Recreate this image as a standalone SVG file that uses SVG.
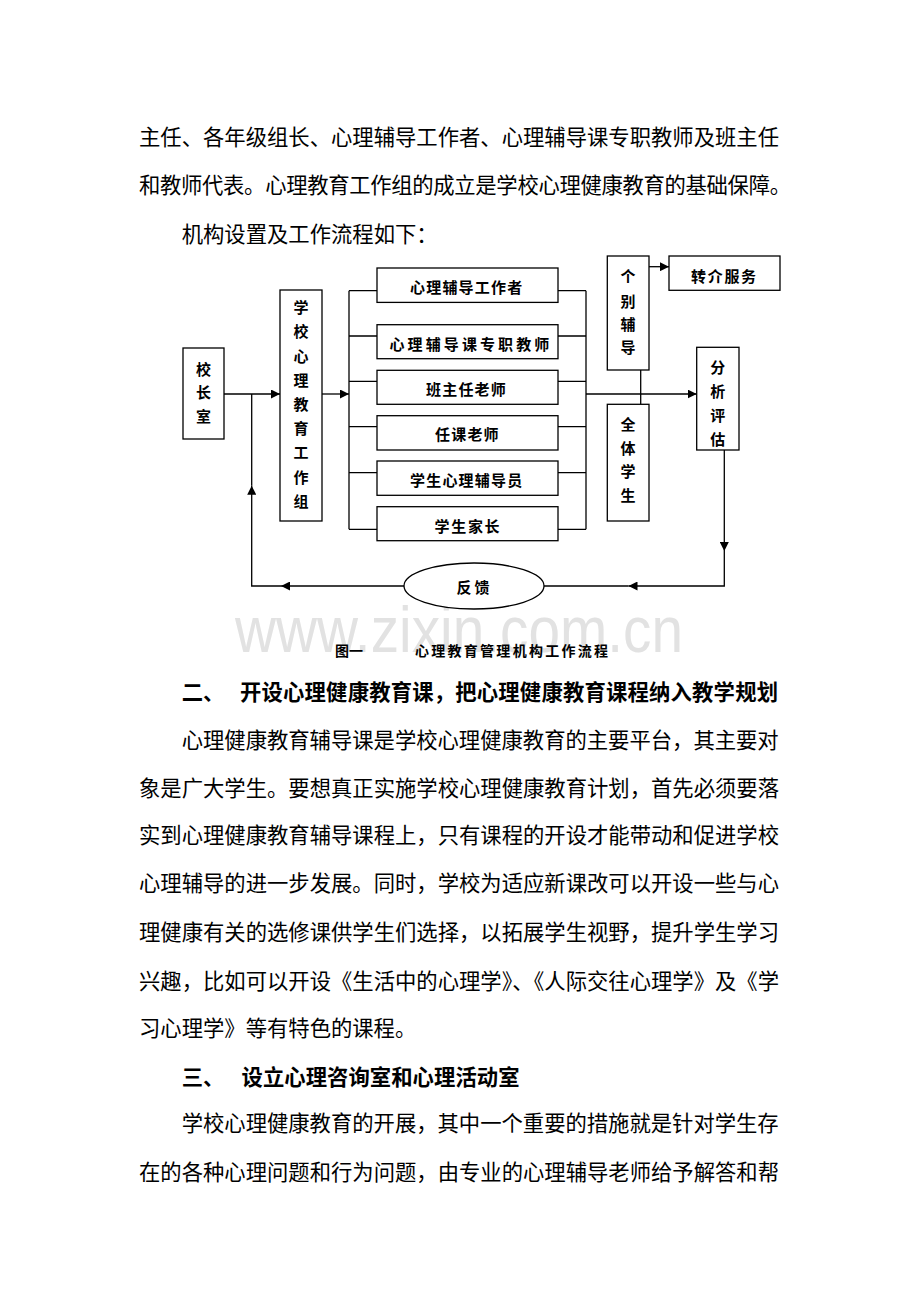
<svg xmlns="http://www.w3.org/2000/svg" width="920" height="1302" viewBox="0 0 920 1302">
<style>
.bg{fill:#fff}
.box{fill:#fff;stroke:#000;stroke-width:1.3}
.ln{fill:none;stroke:#000;stroke-width:1.3}
.lbl{font-family:"Noto Sans CJK SC",sans-serif;font-size:15px;font-weight:bold;fill:#000;letter-spacing:1.2px}
.vl{font-family:"Noto Sans CJK SC",sans-serif;font-size:15px;font-weight:bold;fill:#000;text-anchor:middle}
.p{font-family:"Noto Sans CJK SC",sans-serif;font-size:21.33px;fill:#000}
.h{font-weight:bold}
.cap{font-family:"Noto Sans CJK SC",sans-serif;font-size:14px;font-weight:bold;fill:#000}
.wm{font-family:"Liberation Sans",Arial,sans-serif;font-size:64px;fill:#e2e2e2}
</style>
<defs>
<marker id="ah" markerUnits="userSpaceOnUse" markerWidth="10" markerHeight="9" refX="9" refY="4.5" orient="auto"><path d="M0,0 L9,4.5 L0,9 z" fill="#000"/></marker>
</defs>
<rect class="bg" x="0" y="0" width="920" height="1302"/>
<text class="wm" x="235" y="652" textLength="448" lengthAdjust="spacingAndGlyphs">www.zixin.com.cn</text>

<g id="text-top">
<text class="p" x="139" y="145" textLength="640" lengthAdjust="spacing">主任、各年级组长、心理辅导工作者、心理辅导课专职教师及班主任</text>
<text class="p" x="139" y="193" textLength="652" lengthAdjust="spacing">和教师代表。心理教育工作组的成立是学校心理健康教育的基础保障。</text>
<text class="p" x="181.7" y="241.5">机构设置及工作流程如下：</text>
</g>

<g id="connectors">
<path class="ln" d="M224,394 H280" marker-end="url(#ah)"/>
<path class="ln" d="M322,394 H349" marker-end="url(#ah)"/>
<path class="ln" d="M349,290.7 V529.3"/>
<path class="ln" d="M349,290.7 H377 M349,336 H377 M349,381.3 H377 M349,426.7 H377 M349,472.7 H377 M349,529.3 H377"/>
<path class="ln" d="M558,290.7 H586 M558,336 H586 M558,381.3 H586 M558,426.7 H586 M558,472.7 H586 M558,529.3 H586"/>
<path class="ln" d="M586,290.7 V529.3"/>
<path class="ln" d="M586,394 H696.7" marker-end="url(#ah)"/>
<path class="ln" d="M649,266.7 H669" marker-end="url(#ah)"/>
<path class="ln" d="M640.7,370 V404.3"/>
<path class="ln" d="M724.3,450 V551" marker-end="url(#ah)"/>
<path class="ln" d="M724.3,551 V586 H628.5" marker-end="url(#ah)"/>
<path class="ln" d="M628.5,586 H544"/>
<path class="ln" d="M404,586 H281" marker-end="url(#ah)"/>
<path class="ln" d="M281,586 H251.7 V485.7" marker-end="url(#ah)"/>
<path class="ln" d="M251.7,485.7 V394"/>
</g>

<g id="n-xiaozhangshi">
<rect class="box" x="183" y="348" width="41" height="91"/>
<text class="vl" x="203.5" y="375">校</text>
<text class="vl" x="203.5" y="398.3">长</text>
<text class="vl" x="203.5" y="421.6">室</text>
</g>

<g id="n-gongzuozu">
<rect class="box" x="280" y="290" width="42" height="231"/>
<text class="vl" x="301" y="313.2">学</text>
<text class="vl" x="301" y="337.4">校</text>
<text class="vl" x="301" y="361.6">心</text>
<text class="vl" x="301" y="385.8">理</text>
<text class="vl" x="301" y="410">教</text>
<text class="vl" x="301" y="434.2">育</text>
<text class="vl" x="301" y="458.4">工</text>
<text class="vl" x="301" y="482.6">作</text>
<text class="vl" x="301" y="506.8">组</text>
</g>

<g id="n-gongzuozhe">
<rect class="box" x="377" y="268" width="181" height="34.4"/>
<text class="lbl" x="410" y="293.4">心理辅导工作者</text>
</g>
<g id="n-zhuanzhi">
<rect class="box" x="377" y="324.7" width="181" height="34"/>
<text class="lbl" x="389.5" y="349.7" style="letter-spacing:3.1px">心理辅导课专职教师</text>
</g>
<g id="n-banzhuren">
<rect class="box" x="377" y="370.3" width="181" height="34"/>
<text class="lbl" x="426" y="394.7">班主任老师</text>
</g>
<g id="n-renke">
<rect class="box" x="377" y="415.7" width="181" height="34.3"/>
<text class="lbl" x="435" y="439.7">任课老师</text>
</g>
<g id="n-fudaoyuan">
<rect class="box" x="377" y="461" width="181" height="34.3"/>
<text class="lbl" x="410" y="485.7">学生心理辅导员</text>
</g>
<g id="n-jiazhang">
<rect class="box" x="377" y="506.7" width="181" height="34"/>
<text class="lbl" x="434.5" y="532.4" style="letter-spacing:1.7px">学生家长</text>
</g>

<g id="n-gebie">
<rect class="box" x="607.3" y="256" width="41.7" height="114"/>
<text class="vl" x="628" y="281.5">个</text>
<text class="vl" x="628" y="306.5">别</text>
<text class="vl" x="628" y="330.2">辅</text>
<text class="vl" x="628" y="353.2">导</text>
</g>
<g id="n-zhuanjie">
<rect class="box" x="669" y="256" width="111" height="34.3"/>
<text class="lbl" x="691" y="281.5" style="letter-spacing:1.7px">转介服务</text>
</g>
<g id="n-quanti">
<rect class="box" x="607.3" y="404.3" width="41.7" height="116.7"/>
<text class="vl" x="628" y="429.7">全</text>
<text class="vl" x="628" y="453.5">体</text>
<text class="vl" x="628" y="477.4">学</text>
<text class="vl" x="628" y="501.2">生</text>
</g>
<g id="n-fenxi">
<rect class="box" x="696.7" y="347.3" width="42.3" height="102.7"/>
<text class="vl" x="717.8" y="373.2">分</text>
<text class="vl" x="717.8" y="397.4">析</text>
<text class="vl" x="717.8" y="420.7">评</text>
<text class="vl" x="717.8" y="444.7">估</text>
</g>
<g id="n-fankui">
<ellipse class="box" cx="474" cy="586" rx="70" ry="23"/>
<text class="lbl" x="456.5" y="593.2" style="letter-spacing:3px">反馈</text>
</g>

<g id="caption">
<text class="cap" x="335" y="656">图一</text>
<text class="cap" x="415" y="656" textLength="193" lengthAdjust="spacing">心理教育管理机构工作流程</text>
</g>

<g id="text-bottom">
<text class="p h" x="181.7" y="700">二、</text>
<text class="p h" x="240" y="700" textLength="538" lengthAdjust="spacing">开设心理健康教育课，把心理健康教育课程纳入教学规划</text>
<text class="p" x="181.7" y="748" textLength="597" lengthAdjust="spacing">心理健康教育辅导课是学校心理健康教育的主要平台，其主要对</text>
<text class="p" x="139" y="796" textLength="640" lengthAdjust="spacing">象是广大学生。要想真正实施学校心理健康教育计划，首先必须要落</text>
<text class="p" x="139" y="843" textLength="640" lengthAdjust="spacing">实到心理健康教育辅导课程上，只有课程的开设才能带动和促进学校</text>
<text class="p" x="139" y="891" textLength="640" lengthAdjust="spacing">心理辅导的进一步发展。同时，学校为适应新课改可以开设一些与心</text>
<text class="p" x="139" y="940" textLength="640" lengthAdjust="spacing">理健康有关的选修课供学生们选择，以拓展学生视野，提升学生学习</text>
<text class="p" x="139" y="989" textLength="640" lengthAdjust="spacing">兴趣，比如可以开设《生活中的心理学》、《人际交往心理学》及《学</text>
<text class="p" x="139" y="1036">习心理学》等有特色的课程。</text>
<text class="p h" x="181.7" y="1085">三、</text>
<text class="p h" x="241.5" y="1085" textLength="278" lengthAdjust="spacing">设立心理咨询室和心理活动室</text>
<text class="p" x="181.7" y="1131" textLength="597" lengthAdjust="spacing">学校心理健康教育的开展，其中一个重要的措施就是针对学生存</text>
<text class="p" x="139" y="1180" textLength="640" lengthAdjust="spacing">在的各种心理问题和行为问题，由专业的心理辅导老师给予解答和帮</text>
</g>
</svg>
